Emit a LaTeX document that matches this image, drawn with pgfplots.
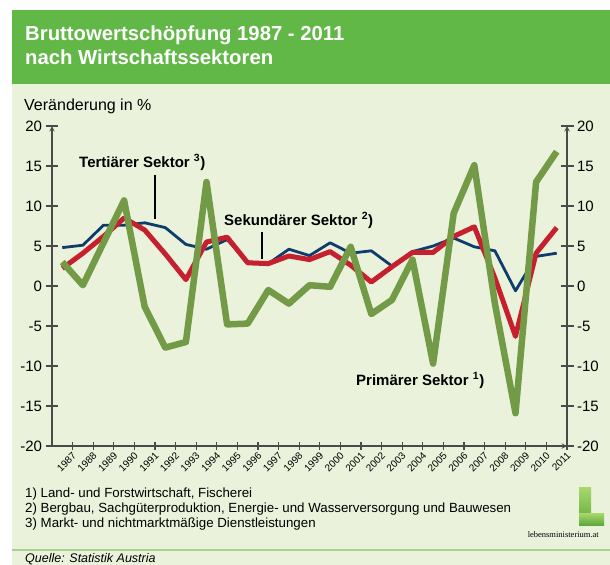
\documentclass[border=0pt]{standalone}
\usepackage{fontspec}
\setmainfont{Liberation Sans}
\newfontfamily\seriffont{Liberation Serif}
\usepackage{pgfplots}
\pgfplotsset{compat=1.18}
\definecolor{bg}{HTML}{EAF2DB}
\definecolor{hdr}{HTML}{62B847}
\definecolor{sepline}{HTML}{A6D48C}
\definecolor{axisgray}{HTML}{4A4A4A}
\definecolor{primc}{HTML}{739A47}
\definecolor{sekc}{HTML}{C6202E}
\definecolor{terc}{HTML}{0E3C6C}
\definecolor{logoA}{HTML}{A8D86E}
\definecolor{logoB}{HTML}{5FA83A}

\pgfplotstableread{
year prim sek ter
1987 3.0 2.2 4.8
1988 0.1 4.1 5.1
1989 5.4 6.2 7.6
1990 10.7 8.5 7.6
1991 -2.6 7.0 7.9
1992 -7.7 4.0 7.3
1993 -7.0 0.8 5.2
1994 13.0 5.5 4.6
1995 -4.8 6.1 5.8
1996 -4.7 2.9 3.0
1997 -0.5 2.8 2.8
1998 -2.2 3.75 4.6
1999 0.1 3.3 3.8
2000 -0.1 4.3 5.4
2001 4.9 2.6 4.1
2002 -3.5 0.5 4.4
2003 -1.75 2.4 2.5
2004 3.3 4.2 4.3
2005 -9.7 4.2 5.0
2006 9.1 6.2 6.0
2007 15.1 7.4 4.9
2008 -2.2 1.0 4.4
2009 -15.9 -6.3 -0.6
2010 13.0 4.1 3.7
2011 16.8 7.3 4.1
}\datatable

\pgfplotsset{
  baseax/.style={
    at={(52bp,-446bp)}, anchor=south west, scale only axis,
    width=515bp, height=320bp,
    xmin=1986.5, xmax=2011.5, ymin=-20, ymax=20,
    axis line style={-, draw=axisgray, line width=1.4bp},
    tick align=inside,
  },
  yax/.style={
    axis x line=none,
    major tick length=13bp,
    ytick={-20,-15,...,20},
    ytick style={draw=axisgray, line width=1.2bp},
    yticklabel style={font=\fontsize{15bp}{18bp}\selectfont},
    /pgf/number format/assume math mode=true,
  },
}

\begin{document}
\begin{tikzpicture}
\path[use as bounding box] (0bp,0bp) rectangle (610bp,-565bp);
\fill[white] (0bp,0bp) rectangle (610bp,-565bp);
\fill[bg] (12bp,-10bp) rectangle (610bp,-565bp);
\fill[hdr] (12bp,-10bp) rectangle (610bp,-84bp);
\node[anchor=base west, inner sep=0, text=white, font=\fontsize{20.3bp}{24bp}\selectfont\bfseries] at (25bp,-40.5bp) {Bruttowertschöpfung 1987 - 2011};
\node[anchor=base west, inner sep=0, text=white, font=\fontsize{20.3bp}{24bp}\selectfont\bfseries] at (25bp,-64bp) {nach Wirtschaftssektoren};
\node[anchor=base west, inner sep=0, font=\fontsize{16bp}{19bp}\selectfont] at (24bp,-110bp) {Veränderung in \%};

% main axis with x axis and data
\begin{axis}[baseax,
  axis x line=bottom, axis y line=none,
  major tick length=8bp,
  xtick={1987.5,1988.5,1989.5,1990.5,1991.5,1992.5,1993.5,1994.5,1995.5,1996.5,1997.5,1998.5,1999.5,2000.5,2001.5,2002.5,2003.5,2004.5,2005.5,2006.5,2007.5,2008.5,2009.5,2010.5,2011.5},
  xticklabels={1987,1988,1989,1990,1991,1992,1993,1994,1995,1996,1997,1998,1999,2000,2001,2002,2003,2004,2005,2006,2007,2008,2009,2010,2011},
  xtick style={draw=axisgray, line width=1.2bp},
  xticklabel style={font=\fontsize{10bp}{12bp}\selectfont, rotate=45, anchor=north east, inner sep=0.5bp, xshift=-1bp},
  clip=false,
]
\addplot[terc, line width=2.8bp, line join=round] table[x=year, y=ter] {\datatable};
\addplot[sekc, line width=5bp, line join=round] table[x=year, y=sek] {\datatable};
\addplot[primc, line width=6.5bp, line join=round] table[x=year, y=prim] {\datatable};
\end{axis}

% left y axis
\begin{axis}[baseax, yax, axis y line=left]
\end{axis}

% right y axis
\begin{axis}[baseax, yax, axis y line=right]
\end{axis}

% annotations
\node[anchor=base west, inner sep=0, font=\bfseries\fontsize{15bp}{18bp}\selectfont] at (79bp,-167bp) {Tertiärer Sektor \textsuperscript{3})};
\draw[line width=1.1bp] (155bp,-175bp) -- (155bp,-219bp);
\node[anchor=base west, inner sep=0, font=\bfseries\fontsize{15bp}{18bp}\selectfont] at (224bp,-225bp) {Sekundärer Sektor \textsuperscript{2})};
\draw[line width=1.1bp] (262bp,-232bp) -- (262bp,-259bp);
\node[anchor=base west, inner sep=0, font=\bfseries\fontsize{15bp}{18bp}\selectfont] at (356bp,-385bp) {Primärer Sektor \textsuperscript{1})};

% footnotes
\node[anchor=base west, inner sep=0, font=\fontsize{13.3bp}{15bp}\selectfont] at (25bp,-497bp) {1) Land- und Forstwirtschaft, Fischerei};
\node[anchor=base west, inner sep=0, font=\fontsize{13.3bp}{15bp}\selectfont] at (25bp,-512bp) {2) Bergbau, Sachgüterproduktion, Energie- und Wasserversorgung und Bauwesen};
\node[anchor=base west, inner sep=0, font=\fontsize{13.3bp}{15bp}\selectfont] at (25bp,-527bp) {3) Markt- und nichtmarktmäßige Dienstleistungen};

% logo
\shade[top color=logoA, bottom color=logoB] (579bp,-487bp) rectangle (591bp,-525bp);
\shade[top color=logoA, bottom color=logoB] (579bp,-513bp) rectangle (604bp,-525bp);
\node[anchor=base east, inner sep=0, font=\seriffont\fontsize{8.5bp}{10bp}\selectfont] at (599bp,-537bp) {lebensministerium.at};

% separator and source
\draw[sepline, line width=2bp] (12bp,-550bp) -- (610bp,-550bp);
\node[anchor=base west, inner sep=0, font=\itshape\fontsize{12.5bp}{15bp}\selectfont] at (25bp,-562bp) {Quelle: Statistik Austria};
\end{tikzpicture}
\end{document}
